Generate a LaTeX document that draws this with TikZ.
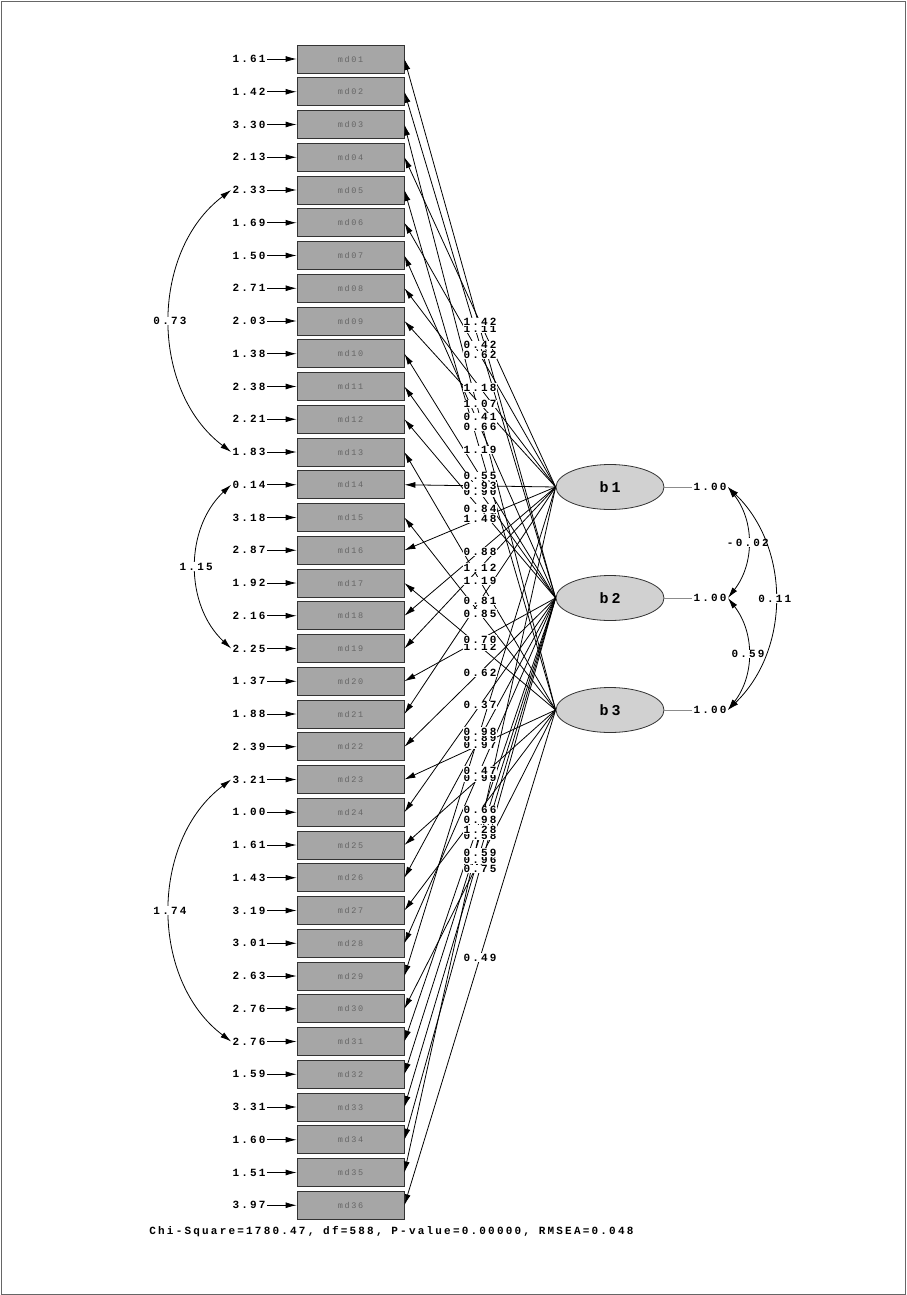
\documentclass[tikz,border=0pt]{standalone}
\usepackage{fontspec}
\usetikzlibrary{arrows.meta,shapes,positioning}
\newfontfamily\lisfont[LetterSpace=20]{Liberation Mono}

\begin{document}
\begin{tikzpicture}[x=1pt,y=-1pt,>={Latex[length=11pt,width=6pt]},line width=0.8pt,
    ind/.style={draw=black!80,fill=black!35,minimum width=107pt,minimum height=28pt,inner sep=0pt,
      font=\lisfont\fontsize{8.5}{9}\selectfont,text=black!60},
    lat/.style={ellipse,draw=black!80,fill=black!18,minimum width=108pt,minimum height=45pt,inner sep=0pt,
      font=\lisfont\bfseries\fontsize{15}{16}\selectfont},
    est/.style={font=\lisfont\bfseries\fontsize{11}{12}\selectfont,inner sep=1pt},
    lbl/.style={est,fill=white,inner sep=0.6pt}]
    \useasboundingbox (0,0) rectangle (906,1295);
    \draw[black!60,line width=0.6pt] (1,1) rectangle (905,1294);

    % observed variables
    \foreach \i in {1,...,36}
        \node[ind] (md\i) at (350.5,{59+(\i-1)*32.75}) {md\ifnum\i<10 0\fi\i};

    % error variances
    \foreach \v [count=\i] in {1.61,1.42,3.30,2.13,2.33,1.69,1.50,2.71,2.03,1.38,2.38,2.21,
        1.83,0.14,3.18,2.87,1.92,2.16,2.25,1.37,1.88,2.39,3.21,1.00,1.61,1.43,3.19,3.01,
        2.63,2.76,2.76,1.59,3.31,1.60,1.51,3.97} {
        \node[est,anchor=east] (e\i) at (267,{59+(\i-1)*32.75}) {\v};
        \draw[->] (e\i) -- (md\i);
    }

    % latent variables
    \node[lat] (b1) at (610,487) {b1};
    \node[lat] (b2) at (610,598) {b2};
    \node[lat] (b3) at (610,710) {b3};
    \foreach \f in {1,2,3} {
        \node[est] (v\f) at (710,{\f==1 ? 487 : (\f==2 ? 598 : 710)}) {1.00};
        \draw[black!45] (b\f) -- (v\f);
    }

    % loadings
    \def\loadings{1/b2/1.11,2/b2/0.42,3/b3/0.41,4/b1/1.42,5/b3/1.19,6/b1/0.62,7/b2/0.66,
        8/b1/1.18,9/b1/1.07,10/b2/0.55,11/b2/0.90,12/b2/0.84,13/b3/1.19,14/b1/0.93,
        15/b3/0.85,16/b1/1.48,17/b3/1.12,18/b1/0.88,19/b1/1.12,20/b2/0.70,21/b1/0.81,
        22/b2/0.62,23/b3/0.97,24/b2/0.37,25/b3/0.99,26/b2/0.89,27/b3/0.66,28/b2/0.47,
        29/b1/0.98,30/b3/0.96,31/b2/0.98,32/b2/0.58,33/b2/0.59,34/b2/0.75,35/b1/1.28,
        36/b3/0.49}
    \foreach \i/\f/\v in \loadings
        \draw[->] (\f.west) -- (md\i.east);
    \foreach \i/\f/\v in \loadings
        \path (\f.west) -- (md\i.east) node[lbl,midway] {\v};

    % error covariances
    \draw[<->] (e5.west) to[bend right=53] node[lbl] {0.73} (e13.west);
    \draw[<->] (e14.west) to[bend right=47] node[lbl] {1.15} (e19.west);
    \draw[<->] (e23.west) to[bend right=53] node[lbl] {1.74} (e31.west);

    % factor covariances
    \draw[<->] (v1.east) to[bend left=38] node[lbl] {-0.02} (v2.east);
    \draw[<->] (v2.east) to[bend left=38] node[lbl] {0.59} (v3.east);
    \draw[<->] (v1.east) to[bend left=46] node[lbl] {0.11} (v3.east);

    \node[est,anchor=west] (fit) at (148,1232) {Chi-Square=1780.47, df=588, P-value=0.00000, RMSEA=0.048};
\end{tikzpicture}
\end{document}
